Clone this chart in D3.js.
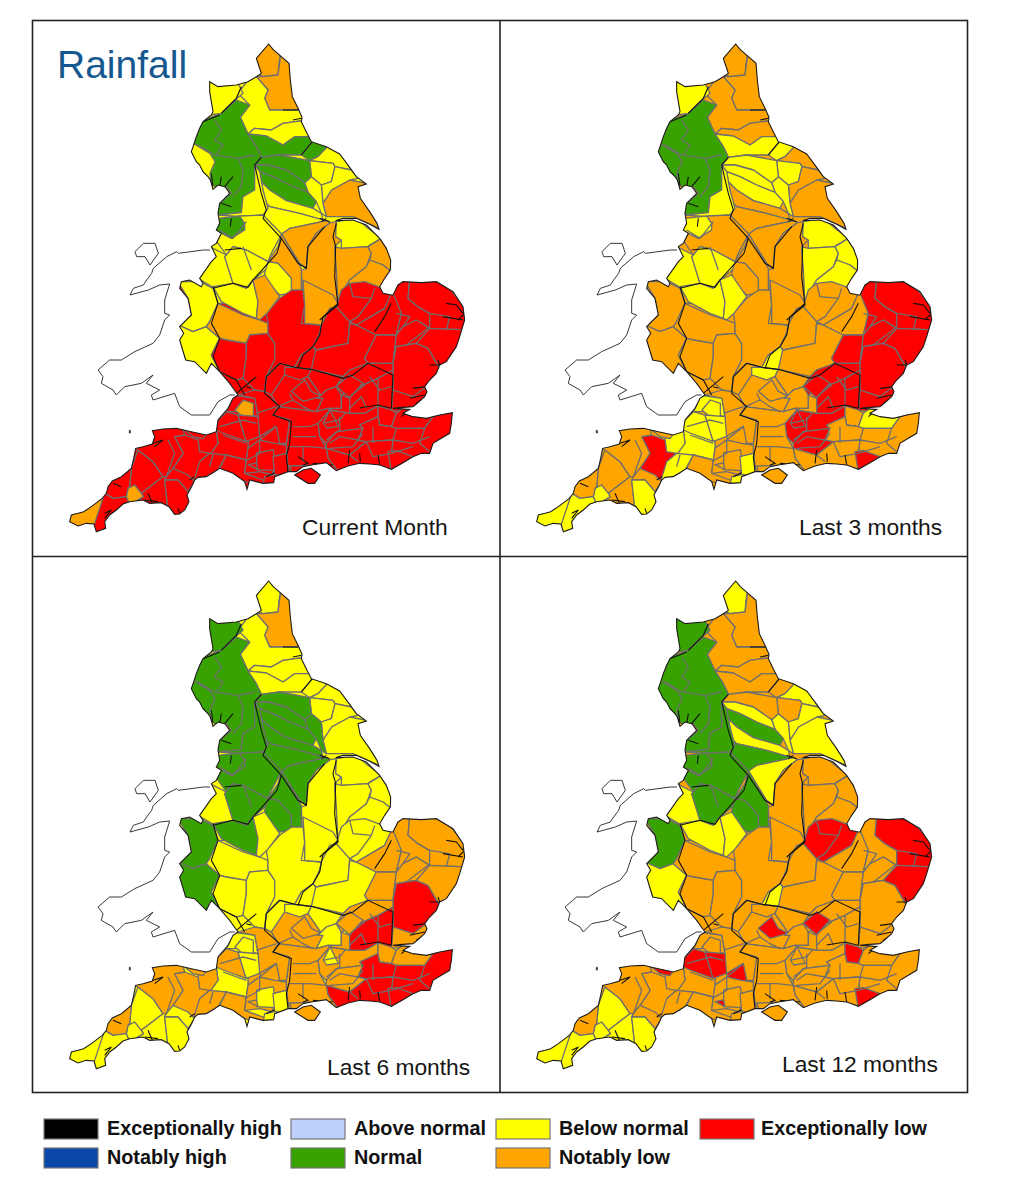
<!DOCTYPE html>
<html>
<head>
<meta charset="utf-8">
<script src="https://cdn.jsdelivr.net/npm/d3@7"></script>
<style>
html,body{margin:0;padding:0;background:#fff}
svg{display:block}
text{font-family:"Liberation Sans",Arial,sans-serif}
</style>
</head>
<body>
<div id="chart"></div>
<script>
// ---------- data ----------
const panelTitles = ["Current Month", "Last 3 months", "Last 6 months", "Last 12 months"];
const legendNames = ["Exceptionally high", "Notably high", "Above normal", "Normal", "Below normal", "Notably low", "Exceptionally low"];
const legendCodes = ["K", "B", "A", "G", "Y", "O", "R"];
const classColours = ["#000000", "#0a48a8", "#bdd0fb", "#38a300", "#ffff00", "#ffa500", "#fe0000"];
const baseClasses = "ROYO";
const isleClasses = "ROOO";

// Map geometry. North rings use the northern sheet grid, south rings the southern sheet grid.
const sheetShift = [270, -750];
const coastNorthEast = [[347,42],[360,58],[385,80],[408,100],[412,150],[418,200],[435,235],[447,262],[445,275],[462,310],[475,335],[520,350],[560,372],[590,412],[610,440],[640,462],[615,470],[622,505],[650,545],[672,580],[678,598],[650,583],[610,565],[570,565],[548,572],[600,570],[640,585],[680,625],[700,655],[713,690],[712,720],[695,745],[680,770],[690,790],[715,795]];
const coastSouth = [[990,45],[1005,15],[1020,5],[1075,8],[1120,5],[1170,35],[1200,80],[1205,120],[1190,170],[1180,200],[1150,245],[1130,255],[1120,280],[1100,300],[1085,320],[1092,335],[1085,350],[1060,372],[1050,380],[1010,383],[990,385],[1040,388],[1020,400],[1050,410],[1090,415],[1130,405],[1168,398],[1165,430],[1160,460],[1135,475],[1110,490],[1100,520],[1075,520],[1050,530],[1020,548],[985,568],[965,560],[950,555],[920,552],[890,550],[855,558],[820,572],[805,560],[790,548],[765,552],[745,555],[720,560],[700,575],[675,575],[635,590],[632,608],[600,610],[560,600],[552,628],[545,605],[510,580],[470,565],[450,578],[430,590],[405,592],[395,600],[385,622],[372,645],[378,665],[365,690],[350,702],[335,703],[318,680],[295,668],[260,670],[240,660],[200,665],[180,672],[160,690],[140,705],[125,725],[128,745],[100,755],[93,732],[70,730],[45,738],[20,725],[25,705],[45,700],[62,695],[85,680],[105,665],[118,655],[130,640],[135,620],[148,603],[175,590],[205,565],[212,535],[218,505],[240,500],[268,492],[275,470],[268,452],[300,447],[340,445],[385,455],[430,465],[460,455],[465,420],[495,385],[510,355],[525,345],[500,310],[470,275],[445,250],[430,280],[395,245],[368,240],[350,180],[362,160],[350,140],[385,105],[375,55],[350,25],[355,5]];
const coastNorthWest = [[85,755],[110,750],[145,770],[150,760],[140,745],[175,695],[190,680],[175,650],[190,640],[205,610],[190,600],[200,580],[195,550],[200,520],[230,490],[222,478],[215,470],[195,465],[180,478],[172,450],[165,440],[150,425],[140,405],[130,395],[115,365],[122,345],[130,320],[140,295],[150,275],[175,255],[180,245],[170,185],[170,155],[195,170],[250,165],[285,155],[310,140],[325,130],[310,85]];
const isleOfWight = [[695,585],[720,570],[745,565],[772,585],[755,610],[735,610]];
const walesCoast = [[515,345],[500,345],[465,365],[440,405],[385,405],[350,380],[335,340],[270,360],[265,345],[290,330],[250,310],[270,285],[235,310],[185,320],[160,345],[150,330],[115,310],[120,290],[105,270],[140,240],[175,240],[215,215],[270,190],[290,165],[305,120],[320,105],[305,100],[305,60],[320,12],[290,15],[256,30],[201,45],[211,25],[241,15],[251,0],[266,-20],[271,-35],[311,-70],[341,-85],[346,-80],[421,-90],[441,-90]];
const anglesey = [[216,-85],[241,-110],[276,-110],[286,-80],[261,-45],[246,-70],[221,-70],[216,-85]];
const lundy = [[199,451],[202,451],[202,459],[199,459],[199,451]];

const northRings = [
 [[100,20],[700,20],[760,820],[100,820]],
 [[300,60],[347,30],[385,60],[378,100],[375,135],[330,140],[310,130]],
 [[330,140],[375,135],[385,60],[430,100],[450,240],[350,240],[335,205],[345,180],[310,140]],
 [[255,190],[285,150],[310,140],[345,180],[335,205],[350,240],[450,240],[447,272],[390,280],[355,300],[305,295],[285,312],[262,262],[290,225]],
 [[285,312],[305,295],[355,300],[390,280],[450,272],[470,320],[425,320],[390,345],[340,318]],
 [[285,312],[340,318],[390,345],[425,320],[470,320],[478,340],[445,375],[380,375],[325,382],[310,350]],
 [[445,375],[478,335],[525,348],[495,380],[470,392]],
 [[470,392],[495,380],[525,348],[565,370],[595,420],[546,410],[540,400]],
 [[470,392],[540,400],[546,410],[535,455],[505,465],[475,440]],
 [[546,410],[595,420],[615,445],[591,450],[536,480],[510,520],[505,465],[535,455]],
 [[536,480],[591,450],[650,462],[622,475],[690,600],[600,560],[520,560],[510,520]],
 [[455,458],[475,440],[505,465],[510,520],[520,560],[505,550],[490,515],[465,487]],
 [[305,405],[325,382],[380,375],[470,392],[475,440],[455,458],[400,420],[345,405]],
 [[305,405],[345,405],[400,420],[455,458],[465,487],[410,465],[360,440],[320,425]],
 [[320,425],[360,440],[410,465],[465,487],[490,515],[480,535],[400,512],[350,480],[325,455]],
 [[325,455],[350,480],[400,512],[480,535],[505,550],[510,570],[440,550],[350,530],[335,515]],
 [[335,515],[350,530],[440,550],[510,570],[521,572],[411,595],[386,612],[351,595],[330,555]],
 [[411,595],[521,572],[532,578],[490,610],[465,650],[460,715],[440,700],[386,612]],
 [[532,578],[550,575],[548,620],[565,630],[545,650],[550,720],[555,825],[450,830],[445,720],[460,715],[465,650],[490,610]],
 [[550,575],[610,565],[645,595],[685,625],[650,645],[645,650],[565,655],[565,630],[548,620]],
 [[545,650],[565,655],[645,650],[655,670],[640,710],[590,750],[575,775],[590,805],[555,825],[550,720]],
 [[685,625],[720,690],[712,722],[690,705],[650,690],[655,670],[645,650]],
 [[640,710],[650,690],[690,705],[712,722],[690,775],[700,795],[620,810],[590,805],[575,775],[590,750]],
 [[160,145],[195,165],[255,160],[270,190],[240,215],[205,250],[170,255]],
 [[130,320],[150,270],[205,250],[250,210],[290,225],[262,262],[285,312],[310,350],[325,382],[305,405],[305,480],[270,500],[265,548],[195,555],[195,525],[235,490],[220,470],[185,470],[165,445],[105,365]],
 [[121,340],[171,370],[186,395],[171,430],[176,478],[150,430],[105,365]],
 [[305,405],[320,425],[330,480],[345,535],[330,555],[260,560],[195,555],[265,548],[270,500],[305,480]],
 [[185,600],[195,565],[260,558],[275,580],[275,600],[235,625]],
 [[275,600],[275,580],[260,558],[330,555],[386,612],[355,670],[345,695],[280,660],[240,650],[220,675],[185,625],[185,600],[235,625]],
 [[170,650],[220,675],[215,680],[240,760],[215,775],[180,772],[135,745],[170,695]],
 [[215,680],[220,675],[240,650],[280,660],[345,695],[355,705],[300,750],[280,775],[240,760]],
 [[345,695],[375,650],[386,612],[445,715],[445,780],[415,790],[415,745],[375,700]],
 [[335,730],[345,695],[375,700],[415,745],[415,790],[380,795],[340,755]]
];
const northClasses = ["YOYO","OOYY","OOOO","YOYO","YOYO","GYYO","GYYO","YOYY","YYYO","YOYY","OOYY","YYGY","GYGO","GYGY","GYGG","YOGY","YOGG","OOGY","OOYO","YYYO","OYYO","OYYO","OYYO","YYGG","GGGG","YGGG","YYGG","GYGG","YOGG","YYYY","YYGG","OOGG","YOGG"];

const southRings = [
 [[345,5],[410,5],[450,25],[465,70],[440,125],[430,140],[390,155],[345,135],[385,105],[375,55]],
 [[345,135],[390,155],[430,140],[470,175],[445,225],[470,275],[425,285],[370,245],[345,180]],
 [[440,125],[465,70],[540,105],[590,120],[615,130],[615,160],[560,165],[550,190],[490,180],[470,175],[430,140]],
 [[470,175],[490,180],[550,190],[550,230],[540,295],[520,300],[490,285],[470,275],[445,225]],
 [[550,190],[560,165],[615,160],[635,190],[635,240],[610,290],[605,335],[575,330],[540,295],[550,230]],
 [[615,130],[610,100],[650,55],[686,30],[720,30],[725,75],[715,130],[775,135],[770,160],[750,200],[715,225],[695,262],[650,250],[610,290],[635,240],[635,190],[615,160]],
 [[450,20],[510,10],[550,25],[570,0],[585,65],[580,115],[540,100],[475,65]],
 [[570,0],[605,-15],[650,50],[612,100],[590,120],[580,115],[585,65]],
 [[720,0],[810,45],[825,70],[775,135],[725,130],[725,75]],
 [[775,135],[800,85],[820,80],[860,125],[855,190],[760,210],[750,200],[770,160]],
 [[760,210],[855,190],[860,130],[880,135],[940,165],[905,235],[915,250],[860,270],[840,290],[745,268],[750,200]],
 [[835,30],[860,10],[905,5],[960,25],[985,45],[965,85],[940,100],[880,135],[860,125],[820,80]],
 [[880,135],[940,100],[965,85],[985,40],[1000,45],[1015,100],[1000,165],[940,165]],
 [[905,235],[940,165],[1000,165],[990,250],[915,250]],
 [[990,40],[1010,0],[1040,0],[1035,55],[1065,80],[1100,100],[1100,145],[1060,120],[1020,140],[1000,165],[1015,100]],
 [[1040,0],[1135,-5],[1220,100],[1220,150],[1100,145],[1100,100],[1065,80],[1035,55]],
 [[1020,140],[1060,120],[1100,145],[1060,190],[1030,195],[1000,200],[990,250],[1000,165]],
 [[1000,200],[1030,195],[1060,190],[1095,205],[1130,265],[1150,280],[1090,325],[1090,350],[1050,350],[990,330],[990,250]],
 [[1060,190],[1100,145],[1220,150],[1190,220],[1130,265],[1095,205]],
 [[990,330],[1050,350],[1090,320],[1095,350],[1060,395],[985,392]],
 [[650,250],[695,262],[745,268],[735,290],[710,300],[665,285],[625,345],[605,335],[610,290]],
 [[665,262],[695,262],[745,268],[735,290],[710,300],[665,285]],
 [[695,262],[715,225],[750,200],[758,210],[745,268]],
 [[625,345],[665,285],[710,300],[735,290],[780,355],[760,395],[645,380]],
 [[685,334],[725,299],[745,334],[775,349],[720,364]],
 [[735,290],[745,268],[840,290],[820,320],[790,330],[765,355],[780,355]],
 [[780,355],[765,355],[790,330],[820,320],[835,345],[835,385],[795,385],[760,395]],
 [[835,345],[860,355],[860,400],[800,390],[795,385],[835,385]],
 [[820,320],[840,290],[860,270],[915,250],[990,250],[990,270],[945,295],[855,335],[835,345]],
 [[855,335],[945,295],[990,270],[990,330],[985,392],[945,378],[905,400],[860,400],[860,355]],
 [[820,319],[860,284],[900,309],[860,354]],
 [[765,430],[800,390],[860,400],[905,400],[945,378],[945,410],[890,435],[900,445],[820,455],[790,490],[770,470]],
 [[781,429],[801,389],[826,439],[791,444]],
 [[945,378],[985,390],[1000,400],[985,440],[950,435],[945,410]],
 [[985,440],[1000,400],[1020,385],[1110,410],[1085,445],[1000,445]],
 [[790,490],[820,455],[900,445],[885,480],[910,485],[860,525],[790,505]],
 [[890,435],[945,410],[950,435],[985,440],[1000,445],[1085,445],[1110,410],[1180,390],[1175,470],[1115,530],[1040,545],[985,575],[985,520],[990,480],[910,485],[885,480],[900,445]],
 [[645,380],[760,395],[795,385],[800,390],[765,430],[770,470],[790,505],[796,535],[830,580],[745,565],[675,585],[670,490],[680,420],[630,405]],
 [[790,505],[860,525],[910,485],[990,480],[985,520],[985,575],[950,565],[890,560],[830,580],[796,535]],
 [[975,515],[1000,512],[1050,530],[985,575]],
 [[525,345],[575,330],[605,335],[625,345],[645,380],[630,405],[680,420],[670,490],[635,490],[590,480],[555,505],[555,470],[580,465],[585,410],[575,355]],
 [[510,345],[575,355],[585,410],[530,395],[490,395],[500,375]],
 [[541,360],[571,370],[571,420],[551,420],[516,390]],
 [[460,450],[500,455],[555,470],[555,505],[550,540],[490,525],[445,525],[430,490],[465,490]],
 [[460,425],[490,395],[525,405],[545,470],[550,484],[480,459],[460,450]],
 [[525,405],[585,410],[590,469],[550,484],[545,470]],
 [[590,469],[640,439],[650,489],[600,504]],
 [[405,480],[405,455],[460,450],[465,490],[440,525],[410,525]],
 [[335,470],[365,465],[405,480],[410,515],[440,520],[410,545],[410,580],[390,605],[330,565],[360,520]],
 [[410,545],[440,520],[490,525],[465,570],[420,595],[390,610]],
 [[465,575],[490,525],[550,540],[545,580],[600,600],[640,600],[600,620],[560,610],[510,590]],
 [[555,505],[590,480],[635,490],[670,495],[670,520],[630,530],[630,585],[590,575],[545,580],[550,540]],
 [[581,519],[631,509],[640,572],[581,569]],
 [[630,530],[670,520],[680,585],[635,585]],
 [[605,590],[640,583],[640,615],[600,618]],
 [[555,554],[580,549],[585,569]],
 [[205,565],[225,510],[270,545],[300,590],[235,640],[200,620]],
 [[225,510],[205,500],[260,480],[265,440],[340,440],[360,445],[365,465],[335,470],[360,520],[330,565],[310,590],[300,590],[270,545]],
 [[362,447],[385,442],[432,458],[420,476],[390,470]],
 [[300,590],[310,590],[305,600],[315,690],[265,680],[200,675],[241,650],[235,640]],
 [[310,590],[330,565],[375,585],[395,605],[375,635],[345,600],[305,600]],
 [[305,600],[345,600],[375,635],[380,695],[340,715],[315,690]],
 [[195,625],[215,615],[235,640],[241,650],[200,675],[190,650]],
 [[205,565],[200,620],[195,625],[190,650],[150,655],[125,640],[140,595]],
 [[125,640],[150,655],[190,650],[200,675],[160,700],[130,730],[130,760],[90,765],[85,720]],
 [[10,700],[60,685],[125,640],[100,715],[90,745],[25,745]],
 [[680,558],[780,555],[790,600],[700,620]]
];
const southClasses = ["YOGG","YOGY","OOYO","ROYO","ROYO","ROYO","YYGY","OYYY","OOYO","ROYO","ROYO","ROYR","ROOO","RROO","RROO","RROR","RROO","RRRO","RROR","RROO","ROYO","RYYO","RYYY","ROOO","ROOR","ROYO","ROYO","ROOO","RROO","RRRO","RROR","RROO","RRYO","ROOR","RYOO","RROO","RORO","ROOO","RORO","RRRR","ROOO","RYYO","OYYO","RYYO","RYOR","RYYR","ROOR","RYOO","RROO","RYOO","ROOO","ROOO","ROYO","RYYO","RYYO","ROOR","ROYY","ROOO","ROOR","ROYY","ROYO","RYYY","OYYY","ROOO","RYYY","OYYY","ROOO"];

const greyLines = [
 [[1100,100],[1160,110],[1150,150]],[[1095,145],[1030,195]],[[920,290],[950,330],[985,320]],[[905,315],[860,350]],[[945,295],[945,378]],[[860,385],[895,350],[910,385]],
 [[780,430],[830,420],[850,395]],[[830,410],[830,450],[790,480]],[[885,480],[830,470],[800,490]],[[800,505],[870,500],[900,460]],[[930,440],[930,490]],[[990,480],[1050,490],[1100,470]],[[1000,445],[990,480]],[[1085,445],[1070,490],[1100,515]],[[985,520],[1050,500]],[[910,485],[930,530],[985,520]],[[860,525],[885,545]],
 [[690,440],[740,440],[765,430]],[[690,470],[760,470]],[[680,500],[740,500],[790,505]],[[720,500],[720,545]],[[645,380],[690,360],[720,380],[750,395]],[[690,360],[680,340]],[[470,440],[540,420],[580,430]],[[480,465],[550,490]],[[590,480],[590,520],[545,545]],[[640,440],[590,480]],[[580,400],[640,380]],[[450,525],[440,560]],[[315,480],[335,520],[310,590]],[[1000,100],[1040,110],[1020,140]],[[860,10],[870,50],[925,55],[935,25]],[[860,125],[885,110],[925,55]]
];
const greyLinesNorth = [[[135,345],[185,375],[255,385],[305,375]],[[185,270],[205,300],[185,330],[210,345],[190,375]],[[255,385],[270,420],[265,470],[240,500]],[[200,600],[240,625],[280,575]],[[270,650],[295,720]]];
const blackLinesNorth = [
 [[265,170],[250,205],[205,250]],[[325,382],[305,405],[325,490],[340,540],[330,565],[385,625],[435,700],[460,715],[465,650],[515,590]],
 [[385,625],[372,670],[345,700],[300,750],[285,772],[240,760],[180,775]],[[550,580],[540,620],[548,650],[545,740],[555,825],[500,870]],
 [[390,240],[435,240]],[[420,270],[445,265]],[[445,375],[478,335]],[[500,565],[530,575]],[[505,575],[520,565]],[[180,470],[175,430]],[[205,440],[200,470]],[[215,470],[240,440]],[[205,520],[235,530]],[[235,565],[232,590]],[[215,660],[265,655]],[[150,275],[200,255]]
];
const blackLinesSouth = [
 [[450,20],[465,70],[445,130],[470,175],[450,230],[470,275],[520,300],[545,345]],[[825,70],[780,110],[770,165],[750,200],[720,225],[705,265]],[[610,290],[605,340],[650,380],[630,405],[685,425],[680,490],[670,530],[675,575]],[[650,250],[610,290]],[[650,250],[695,262],[745,268],[840,295],[870,285],[915,250],[990,285],[985,385]],[[890,384],[945,375],[985,385]],[[985,70],[965,110],[935,155]],
 [[1150,70],[1180,75],[1200,100]],[[1140,110],[1200,120]],[[1205,100],[1185,120]],[[1100,255],[1140,255]],[[1125,240],[1135,270]],[[1050,325],[1090,320]],[[1040,355],[1085,345]],[[1060,370],[1085,355]],[[1015,410],[1040,390],[1060,400],[1090,410]],[[705,530],[735,550],[720,555]],[[750,550],[810,555]],[[860,510],[855,550]],[[890,520],[892,545]],[[945,525],[950,555]],[[610,590],[635,578]],[[255,640],[270,675]],[[245,660],[285,665]],[[380,600],[395,590]],[[125,700],[145,690],[125,715]],[[345,685],[350,700]],[[270,490],[300,480],[275,500]],[[150,610],[175,620]],[[520,340],[580,290]],[[550,320],[565,325]]
];

// ---------- drawing ----------
const width = 1018, height = 1200;
const svg = d3.select("#chart").append("svg").attr("width", width).attr("height", height);
svg.append("rect").attr("width", width).attr("height", height).attr("fill", "#fff");

const colour = d3.scaleOrdinal(legendCodes, classColours);
const toSouthSheet = ring => ring.map(p => [p[0] + sheetShift[0], p[1] + sheetShift[1]]);
const england = [...toSouthSheet(coastNorthEast), ...coastSouth, ...toSouthSheet(coastNorthWest)];
const regions = [
  ...northRings.map((r, i) => ({ring: toSouthSheet(r), cls: northClasses[i]})),
  ...southRings.map((r, i) => ({ring: r, cls: southClasses[i]}))
];
const allGrey = [...greyLines, ...greyLinesNorth.map(toSouthSheet)];
const allBlack = [...blackLinesSouth, ...blackLinesNorth.map(toSouthSheet)];

const panelX = [0, 467, 0, 467], panelY = [0, 0, 537, 537];
const titleX = [302, 799, 327, 782], titleY = [535, 535, 1075, 1072];

panelTitles.forEach((title, p) => {
  const x = d3.scaleLinear().domain([0, 1020]).range([63 + panelX[p], 403 + panelX[p]]);
  const y = d3.scaleLinear().domain([0, 810]).range([280 + panelY[p], 550 + panelY[p]]);
  const line = d3.line().x(d => x(d[0])).y(d => y(d[1]));
  const g = svg.append("g");
  const clipId = "clip" + p;
  const clip = g.append("clipPath").attr("id", clipId);
  clip.append("path").attr("d", line(england) + "Z");

  // Wales
  g.selectAll("path.wales").data([walesCoast, anglesey, lundy]).join("path")
    .attr("class", "wales").attr("d", line).attr("fill", "none").attr("stroke", "#222").attr("stroke-width", 0.9);

  const land = g.append("g").attr("clip-path", `url(#${clipId})`);
  land.append("path").attr("d", line(england) + "Z").attr("fill", colour(baseClasses[p]));
  land.selectAll("path.region").data(regions).join("path")
    .attr("class", "region")
    .attr("d", d => line(d.ring) + "Z")
    .attr("fill", d => colour(d.cls[p]))
    .attr("stroke", "#6e6e6e").attr("stroke-width", 1.3).attr("stroke-linejoin", "round");
  land.selectAll("path.grey").data(allGrey).join("path")
    .attr("class", "grey").attr("d", line).attr("fill", "none")
    .attr("stroke", "#6e6e6e").attr("stroke-width", 1.3);
  land.selectAll("path.black").data(allBlack).join("path")
    .attr("class", "black").attr("d", line).attr("fill", "none")
    .attr("stroke", "#111").attr("stroke-width", 1.1);
  g.append("path").attr("d", line(england) + "Z").attr("fill", "none").attr("stroke", "#1c1c1c").attr("stroke-width", 1.1);
  g.append("path").attr("d", line(isleOfWight) + "Z").attr("fill", colour(isleClasses[p])).attr("stroke", "#1c1c1c").attr("stroke-width", 1.1);

  g.append("text").attr("x", titleX[p]).attr("y", titleY[p]).attr("font-size", 22.8).attr("fill", "#161616").text(title);
});

svg.append("text").attr("x", 57).attr("y", 78).attr("font-size", 39).attr("fill", "#15578f").text("Rainfall");

// Panel frame
const frame = svg.append("g").attr("fill", "none").attr("stroke", "#222").attr("stroke-width", 1.6);
frame.append("rect").attr("x", 32.5).attr("y", 20.5).attr("width", 935).attr("height", 1072);
frame.append("line").attr("x1", 500).attr("x2", 500).attr("y1", 20).attr("y2", 1093);
frame.append("line").attr("x1", 32).attr("x2", 968).attr("y1", 556.5).attr("y2", 556.5);

// Legend
const legendX = [44, 44, 291, 291, 496, 496, 700], legendRow = [0, 1, 0, 1, 0, 1, 0];
const labelX = [107, 107, 354, 354, 559, 559, 761];
const legend = svg.append("g");
legendNames.forEach((name, i) => {
  const yy = 1119 + legendRow[i] * 29;
  legend.append("rect").attr("x", legendX[i]).attr("y", yy).attr("width", 54).attr("height", 20)
    .attr("fill", colour(legendCodes[i])).attr("stroke", "#777").attr("stroke-width", 1.2);
  legend.append("text").attr("x", labelX[i]).attr("y", yy + 15.5).attr("font-size", 19.8).attr("font-weight", 700).attr("fill", "#111").text(name);
});
</script>
</body>
</html>
